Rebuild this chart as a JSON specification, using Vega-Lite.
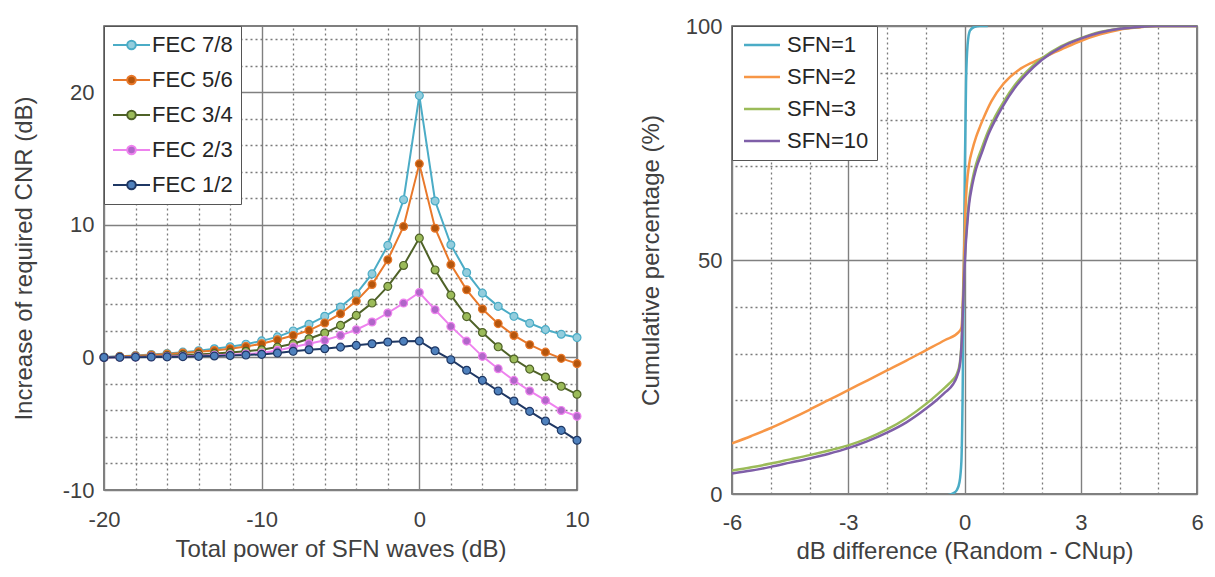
{
  "$schema": "https://vega.github.io/schema/vega-lite/v6.json",
  "background": "white",
  "padding": {"left": 11, "top": 14, "right": 0, "bottom": 0},
  "bounds": "flush",
  "spacing": 155,
  "resolve": {
    "scale": {"color": "independent", "stroke": "independent", "fill": "independent"},
    "legend": {"color": "independent", "stroke": "independent", "fill": "independent"}
  },
  "config": {
    "font": "Liberation Sans",
    "view": {"stroke": "#555555", "strokeWidth": 1.5},
    "axis": {
      "labelFont": "Liberation Sans",
      "titleFont": "Liberation Sans",
      "labelFontSize": 22,
      "titleFontSize": 24,
      "titleFontWeight": "normal",
      "labelColor": "#404040",
      "titleColor": "#404040",
      "ticks": false,
      "domain": false,
      "labelFlush": false,
      "labelExpr": "replace(datum.label, '\u2212', '-')"
    },
    "legend": {
      "labelFont": "Liberation Sans",
      "labelFontSize": 22,
      "labelColor": "#262626"
    }
  },
  "datasets": {
    "fec": [
      {"x": -20, "y": 0.03, "s": "FEC 7/8"}, {"x": -19, "y": 0.08, "s": "FEC 7/8"}, {"x": -18, "y": 0.15, "s": "FEC 7/8"}, {"x": -17, "y": 0.22, "s": "FEC 7/8"}, {"x": -16, "y": 0.3, "s": "FEC 7/8"}, {"x": -15, "y": 0.4, "s": "FEC 7/8"}, {"x": -14, "y": 0.5, "s": "FEC 7/8"}, {"x": -13, "y": 0.65, "s": "FEC 7/8"}, {"x": -12, "y": 0.8, "s": "FEC 7/8"}, {"x": -11, "y": 1.0, "s": "FEC 7/8"}, {"x": -10, "y": 1.25, "s": "FEC 7/8"}, {"x": -9, "y": 1.55, "s": "FEC 7/8"}, {"x": -8, "y": 2.0, "s": "FEC 7/8"}, {"x": -7, "y": 2.5, "s": "FEC 7/8"}, {"x": -6, "y": 3.1, "s": "FEC 7/8"}, {"x": -5, "y": 3.8, "s": "FEC 7/8"}, {"x": -4, "y": 4.8, "s": "FEC 7/8"}, {"x": -3, "y": 6.3, "s": "FEC 7/8"}, {"x": -2, "y": 8.45, "s": "FEC 7/8"}, {"x": -1, "y": 11.9, "s": "FEC 7/8"}, {"x": 0, "y": 19.75, "s": "FEC 7/8"}, {"x": 1, "y": 11.8, "s": "FEC 7/8"}, {"x": 2, "y": 8.5, "s": "FEC 7/8"}, {"x": 3, "y": 6.4, "s": "FEC 7/8"}, {"x": 4, "y": 4.85, "s": "FEC 7/8"}, {"x": 5, "y": 3.85, "s": "FEC 7/8"}, {"x": 6, "y": 3.1, "s": "FEC 7/8"}, {"x": 7, "y": 2.58, "s": "FEC 7/8"}, {"x": 8, "y": 2.1, "s": "FEC 7/8"}, {"x": 9, "y": 1.75, "s": "FEC 7/8"}, {"x": 10, "y": 1.5, "s": "FEC 7/8"},
      {"x": -20, "y": 0.02, "s": "FEC 5/6"}, {"x": -19, "y": 0.07, "s": "FEC 5/6"}, {"x": -18, "y": 0.12, "s": "FEC 5/6"}, {"x": -17, "y": 0.18, "s": "FEC 5/6"}, {"x": -16, "y": 0.25, "s": "FEC 5/6"}, {"x": -15, "y": 0.33, "s": "FEC 5/6"}, {"x": -14, "y": 0.42, "s": "FEC 5/6"}, {"x": -13, "y": 0.52, "s": "FEC 5/6"}, {"x": -12, "y": 0.66, "s": "FEC 5/6"}, {"x": -11, "y": 0.82, "s": "FEC 5/6"}, {"x": -10, "y": 1.03, "s": "FEC 5/6"}, {"x": -9, "y": 1.33, "s": "FEC 5/6"}, {"x": -8, "y": 1.66, "s": "FEC 5/6"}, {"x": -7, "y": 2.04, "s": "FEC 5/6"}, {"x": -6, "y": 2.6, "s": "FEC 5/6"}, {"x": -5, "y": 3.3, "s": "FEC 5/6"}, {"x": -4, "y": 4.25, "s": "FEC 5/6"}, {"x": -3, "y": 5.5, "s": "FEC 5/6"}, {"x": -2, "y": 7.37, "s": "FEC 5/6"}, {"x": -1, "y": 9.88, "s": "FEC 5/6"}, {"x": 0, "y": 14.6, "s": "FEC 5/6"}, {"x": 1, "y": 9.75, "s": "FEC 5/6"}, {"x": 2, "y": 7.0, "s": "FEC 5/6"}, {"x": 3, "y": 5.1, "s": "FEC 5/6"}, {"x": 4, "y": 3.65, "s": "FEC 5/6"}, {"x": 5, "y": 2.55, "s": "FEC 5/6"}, {"x": 6, "y": 1.66, "s": "FEC 5/6"}, {"x": 7, "y": 0.96, "s": "FEC 5/6"}, {"x": 8, "y": 0.4, "s": "FEC 5/6"}, {"x": 9, "y": -0.07, "s": "FEC 5/6"}, {"x": 10, "y": -0.47, "s": "FEC 5/6"},
      {"x": -20, "y": 0.01, "s": "FEC 3/4"}, {"x": -19, "y": 0.03, "s": "FEC 3/4"}, {"x": -18, "y": 0.06, "s": "FEC 3/4"}, {"x": -17, "y": 0.09, "s": "FEC 3/4"}, {"x": -16, "y": 0.13, "s": "FEC 3/4"}, {"x": -15, "y": 0.18, "s": "FEC 3/4"}, {"x": -14, "y": 0.23, "s": "FEC 3/4"}, {"x": -13, "y": 0.29, "s": "FEC 3/4"}, {"x": -12, "y": 0.37, "s": "FEC 3/4"}, {"x": -11, "y": 0.46, "s": "FEC 3/4"}, {"x": -10, "y": 0.58, "s": "FEC 3/4"}, {"x": -9, "y": 0.78, "s": "FEC 3/4"}, {"x": -8, "y": 1.03, "s": "FEC 3/4"}, {"x": -7, "y": 1.41, "s": "FEC 3/4"}, {"x": -6, "y": 1.84, "s": "FEC 3/4"}, {"x": -5, "y": 2.42, "s": "FEC 3/4"}, {"x": -4, "y": 3.17, "s": "FEC 3/4"}, {"x": -3, "y": 4.1, "s": "FEC 3/4"}, {"x": -2, "y": 5.36, "s": "FEC 3/4"}, {"x": -1, "y": 6.94, "s": "FEC 3/4"}, {"x": 0, "y": 9.0, "s": "FEC 3/4"}, {"x": 1, "y": 6.6, "s": "FEC 3/4"}, {"x": 2, "y": 4.7, "s": "FEC 3/4"}, {"x": 3, "y": 3.08, "s": "FEC 3/4"}, {"x": 4, "y": 1.88, "s": "FEC 3/4"}, {"x": 5, "y": 0.8, "s": "FEC 3/4"}, {"x": 6, "y": -0.12, "s": "FEC 3/4"}, {"x": 7, "y": -0.88, "s": "FEC 3/4"}, {"x": 8, "y": -1.48, "s": "FEC 3/4"}, {"x": 9, "y": -2.18, "s": "FEC 3/4"}, {"x": 10, "y": -2.78, "s": "FEC 3/4"},
      {"x": -20, "y": 0.0, "s": "FEC 2/3"}, {"x": -19, "y": 0.02, "s": "FEC 2/3"}, {"x": -18, "y": 0.03, "s": "FEC 2/3"}, {"x": -17, "y": 0.05, "s": "FEC 2/3"}, {"x": -16, "y": 0.07, "s": "FEC 2/3"}, {"x": -15, "y": 0.09, "s": "FEC 2/3"}, {"x": -14, "y": 0.12, "s": "FEC 2/3"}, {"x": -13, "y": 0.16, "s": "FEC 2/3"}, {"x": -12, "y": 0.2, "s": "FEC 2/3"}, {"x": -11, "y": 0.26, "s": "FEC 2/3"}, {"x": -10, "y": 0.33, "s": "FEC 2/3"}, {"x": -9, "y": 0.53, "s": "FEC 2/3"}, {"x": -8, "y": 0.78, "s": "FEC 2/3"}, {"x": -7, "y": 1.03, "s": "FEC 2/3"}, {"x": -6, "y": 1.29, "s": "FEC 2/3"}, {"x": -5, "y": 1.66, "s": "FEC 2/3"}, {"x": -4, "y": 2.09, "s": "FEC 2/3"}, {"x": -3, "y": 2.67, "s": "FEC 2/3"}, {"x": -2, "y": 3.35, "s": "FEC 2/3"}, {"x": -1, "y": 4.1, "s": "FEC 2/3"}, {"x": 0, "y": 4.9, "s": "FEC 2/3"}, {"x": 1, "y": 3.6, "s": "FEC 2/3"}, {"x": 2, "y": 2.34, "s": "FEC 2/3"}, {"x": 3, "y": 1.23, "s": "FEC 2/3"}, {"x": 4, "y": 0.08, "s": "FEC 2/3"}, {"x": 5, "y": -0.85, "s": "FEC 2/3"}, {"x": 6, "y": -1.73, "s": "FEC 2/3"}, {"x": 7, "y": -2.53, "s": "FEC 2/3"}, {"x": 8, "y": -3.24, "s": "FEC 2/3"}, {"x": 9, "y": -4.0, "s": "FEC 2/3"}, {"x": 10, "y": -4.44, "s": "FEC 2/3"},
      {"x": -20, "y": 0.0, "s": "FEC 1/2"}, {"x": -19, "y": 0.01, "s": "FEC 1/2"}, {"x": -18, "y": 0.02, "s": "FEC 1/2"}, {"x": -17, "y": 0.03, "s": "FEC 1/2"}, {"x": -16, "y": 0.04, "s": "FEC 1/2"}, {"x": -15, "y": 0.06, "s": "FEC 1/2"}, {"x": -14, "y": 0.08, "s": "FEC 1/2"}, {"x": -13, "y": 0.11, "s": "FEC 1/2"}, {"x": -12, "y": 0.14, "s": "FEC 1/2"}, {"x": -11, "y": 0.18, "s": "FEC 1/2"}, {"x": -10, "y": 0.23, "s": "FEC 1/2"}, {"x": -9, "y": 0.33, "s": "FEC 1/2"}, {"x": -8, "y": 0.46, "s": "FEC 1/2"}, {"x": -7, "y": 0.58, "s": "FEC 1/2"}, {"x": -6, "y": 0.66, "s": "FEC 1/2"}, {"x": -5, "y": 0.78, "s": "FEC 1/2"}, {"x": -4, "y": 0.91, "s": "FEC 1/2"}, {"x": -3, "y": 1.03, "s": "FEC 1/2"}, {"x": -2, "y": 1.16, "s": "FEC 1/2"}, {"x": -1, "y": 1.22, "s": "FEC 1/2"}, {"x": 0, "y": 1.24, "s": "FEC 1/2"}, {"x": 1, "y": 0.5, "s": "FEC 1/2"}, {"x": 2, "y": -0.17, "s": "FEC 1/2"}, {"x": 3, "y": -0.97, "s": "FEC 1/2"}, {"x": 4, "y": -1.73, "s": "FEC 1/2"}, {"x": 5, "y": -2.53, "s": "FEC 1/2"}, {"x": 6, "y": -3.29, "s": "FEC 1/2"}, {"x": 7, "y": -4.07, "s": "FEC 1/2"}, {"x": 8, "y": -4.8, "s": "FEC 1/2"}, {"x": 9, "y": -5.5, "s": "FEC 1/2"}, {"x": 10, "y": -6.25, "s": "FEC 1/2"}
    ],
    "sfn": [
      {"x": -0.93, "y": -0.3, "s": "SFN=1"}, {"x": -0.6, "y": -0.3, "s": "SFN=1"}, {"x": -0.4, "y": -0.2, "s": "SFN=1"}, {"x": -0.28, "y": 0.2, "s": "SFN=1"}, {"x": -0.2, "y": 0.8, "s": "SFN=1"}, {"x": -0.13, "y": 2.5, "s": "SFN=1"}, {"x": -0.08, "y": 7, "s": "SFN=1"}, {"x": -0.05, "y": 20, "s": "SFN=1"}, {"x": -0.02, "y": 45, "s": "SFN=1"}, {"x": 0.01, "y": 70, "s": "SFN=1"}, {"x": 0.04, "y": 88, "s": "SFN=1"}, {"x": 0.08, "y": 96, "s": "SFN=1"}, {"x": 0.14, "y": 99, "s": "SFN=1"}, {"x": 0.25, "y": 99.8, "s": "SFN=1"}, {"x": 0.4, "y": 100, "s": "SFN=1"}, {"x": 0.6, "y": 100, "s": "SFN=1"},
      {"x": -6, "y": 10.8, "s": "SFN=2"}, {"x": -5.5, "y": 12.4, "s": "SFN=2"}, {"x": -5, "y": 14.1, "s": "SFN=2"}, {"x": -4.5, "y": 16.0, "s": "SFN=2"}, {"x": -4, "y": 18.0, "s": "SFN=2"}, {"x": -3.5, "y": 20.1, "s": "SFN=2"}, {"x": -3, "y": 22.2, "s": "SFN=2"}, {"x": -2.5, "y": 24.3, "s": "SFN=2"}, {"x": -2, "y": 26.4, "s": "SFN=2"}, {"x": -1.5, "y": 28.5, "s": "SFN=2"}, {"x": -1, "y": 30.7, "s": "SFN=2"}, {"x": -0.5, "y": 32.9, "s": "SFN=2"}, {"x": -0.15, "y": 34.6, "s": "SFN=2"}, {"x": -0.08, "y": 35.5, "s": "SFN=2"}, {"x": -0.04, "y": 42, "s": "SFN=2"}, {"x": -0.01, "y": 52, "s": "SFN=2"}, {"x": 0.02, "y": 60, "s": "SFN=2"}, {"x": 0.06, "y": 66, "s": "SFN=2"}, {"x": 0.12, "y": 70.5, "s": "SFN=2"}, {"x": 0.2, "y": 73.5, "s": "SFN=2"}, {"x": 0.3, "y": 76.3, "s": "SFN=2"}, {"x": 0.4, "y": 78.5, "s": "SFN=2"}, {"x": 0.5, "y": 80.5, "s": "SFN=2"}, {"x": 0.7, "y": 84, "s": "SFN=2"}, {"x": 1, "y": 87.6, "s": "SFN=2"}, {"x": 1.4, "y": 90.6, "s": "SFN=2"}, {"x": 1.8, "y": 92.4, "s": "SFN=2"}, {"x": 2.2, "y": 93.9, "s": "SFN=2"}, {"x": 2.6, "y": 95.4, "s": "SFN=2"}, {"x": 3, "y": 96.8, "s": "SFN=2"}, {"x": 3.5, "y": 98.2, "s": "SFN=2"}, {"x": 4, "y": 99.2, "s": "SFN=2"}, {"x": 4.5, "y": 99.7, "s": "SFN=2"}, {"x": 5, "y": 100, "s": "SFN=2"}, {"x": 6, "y": 100, "s": "SFN=2"},
      {"x": -6, "y": 5.0, "s": "SFN=3"}, {"x": -5.5, "y": 5.7, "s": "SFN=3"}, {"x": -5, "y": 6.5, "s": "SFN=3"}, {"x": -4.5, "y": 7.4, "s": "SFN=3"}, {"x": -4, "y": 8.3, "s": "SFN=3"}, {"x": -3.5, "y": 9.3, "s": "SFN=3"}, {"x": -3, "y": 10.4, "s": "SFN=3"}, {"x": -2.5, "y": 11.9, "s": "SFN=3"}, {"x": -2, "y": 13.8, "s": "SFN=3"}, {"x": -1.5, "y": 16.2, "s": "SFN=3"}, {"x": -1, "y": 19.2, "s": "SFN=3"}, {"x": -0.7, "y": 21.3, "s": "SFN=3"}, {"x": -0.5, "y": 22.8, "s": "SFN=3"}, {"x": -0.3, "y": 24.4, "s": "SFN=3"}, {"x": -0.2, "y": 25.6, "s": "SFN=3"}, {"x": -0.12, "y": 28, "s": "SFN=3"}, {"x": -0.07, "y": 33.5, "s": "SFN=3"}, {"x": -0.03, "y": 43, "s": "SFN=3"}, {"x": 0, "y": 49, "s": "SFN=3"}, {"x": 0.03, "y": 54, "s": "SFN=3"}, {"x": 0.07, "y": 58.5, "s": "SFN=3"}, {"x": 0.12, "y": 63, "s": "SFN=3"}, {"x": 0.2, "y": 67, "s": "SFN=3"}, {"x": 0.3, "y": 70.5, "s": "SFN=3"}, {"x": 0.45, "y": 74, "s": "SFN=3"}, {"x": 0.6, "y": 77.3, "s": "SFN=3"}, {"x": 0.8, "y": 80.8, "s": "SFN=3"}, {"x": 1, "y": 83.7, "s": "SFN=3"}, {"x": 1.3, "y": 87.4, "s": "SFN=3"}, {"x": 1.6, "y": 90.2, "s": "SFN=3"}, {"x": 2, "y": 93.1, "s": "SFN=3"}, {"x": 2.5, "y": 95.7, "s": "SFN=3"}, {"x": 3, "y": 97.4, "s": "SFN=3"}, {"x": 3.5, "y": 98.7, "s": "SFN=3"}, {"x": 4, "y": 99.4, "s": "SFN=3"}, {"x": 4.5, "y": 99.8, "s": "SFN=3"}, {"x": 5, "y": 100, "s": "SFN=3"}, {"x": 6, "y": 100, "s": "SFN=3"},
      {"x": -6, "y": 4.4, "s": "SFN=10"}, {"x": -5.5, "y": 5.0, "s": "SFN=10"}, {"x": -5, "y": 5.8, "s": "SFN=10"}, {"x": -4.5, "y": 6.7, "s": "SFN=10"}, {"x": -4, "y": 7.6, "s": "SFN=10"}, {"x": -3.5, "y": 8.6, "s": "SFN=10"}, {"x": -3, "y": 9.8, "s": "SFN=10"}, {"x": -2.5, "y": 11.3, "s": "SFN=10"}, {"x": -2, "y": 13.1, "s": "SFN=10"}, {"x": -1.5, "y": 15.3, "s": "SFN=10"}, {"x": -1, "y": 18.2, "s": "SFN=10"}, {"x": -0.7, "y": 20.2, "s": "SFN=10"}, {"x": -0.5, "y": 21.7, "s": "SFN=10"}, {"x": -0.3, "y": 23.4, "s": "SFN=10"}, {"x": -0.2, "y": 25.0, "s": "SFN=10"}, {"x": -0.12, "y": 27.5, "s": "SFN=10"}, {"x": -0.07, "y": 33, "s": "SFN=10"}, {"x": -0.03, "y": 42, "s": "SFN=10"}, {"x": 0, "y": 48, "s": "SFN=10"}, {"x": 0.03, "y": 53, "s": "SFN=10"}, {"x": 0.07, "y": 57.5, "s": "SFN=10"}, {"x": 0.12, "y": 62, "s": "SFN=10"}, {"x": 0.2, "y": 66, "s": "SFN=10"}, {"x": 0.3, "y": 69.5, "s": "SFN=10"}, {"x": 0.45, "y": 73, "s": "SFN=10"}, {"x": 0.6, "y": 76.5, "s": "SFN=10"}, {"x": 0.8, "y": 80, "s": "SFN=10"}, {"x": 1, "y": 83, "s": "SFN=10"}, {"x": 1.3, "y": 86.8, "s": "SFN=10"}, {"x": 1.6, "y": 89.7, "s": "SFN=10"}, {"x": 2, "y": 92.8, "s": "SFN=10"}, {"x": 2.5, "y": 95.5, "s": "SFN=10"}, {"x": 3, "y": 97.3, "s": "SFN=10"}, {"x": 3.5, "y": 98.6, "s": "SFN=10"}, {"x": 4, "y": 99.4, "s": "SFN=10"}, {"x": 4.5, "y": 99.8, "s": "SFN=10"}, {"x": 5, "y": 100, "s": "SFN=10"}, {"x": 6, "y": 100, "s": "SFN=10"}
    ]
  },
  "hconcat": [
    {
      "width": 473,
      "height": 464,
      "data": {"name": "fec"},
      "layer": [
        {
          "mark": {"type": "line", "strokeWidth": 2},
          "encoding": {
            "x": {"field": "x", "type": "quantitative", "scale": {"domain": [-20, 10], "nice": false, "zero": false},
              "axis": {"orient": "top", "values": [-18, -16, -14, -12, -8, -6, -4, -2, 2, 4, 6, 8], "labels": false, "title": null, "grid": true, "gridDash": [2, 3], "gridColor": "#7a7a7a", "gridWidth": 1.3}},
            "y": {"field": "y", "type": "quantitative", "scale": {"domain": [-10, 25], "nice": false, "zero": false},
              "axis": {"orient": "right", "values": [-8, -6, -4, -2, 2, 4, 6, 8, 12, 14, 16, 18, 22, 24], "labels": false, "title": null, "grid": true, "gridDash": [2, 3], "gridColor": "#7a7a7a", "gridWidth": 1.3}},
            "stroke": {"field": "s", "type": "nominal",
              "scale": {"domain": ["FEC 7/8", "FEC 5/6", "FEC 3/4", "FEC 2/3", "FEC 1/2"], "range": ["#4bacc6", "#e8782a", "#4f6228", "#ee82ee", "#1f3864"]},
              "legend": {"title": null, "orient": "top-left", "offset": 0, "fillColor": "white", "strokeColor": "#555555", "padding": 8, "rowPadding": 13,
                "symbolType": "M-1,0L0.42,0M1.28,0L2.7,0M1.28,0A0.43,0.43,0,1,1,0.42,0A0.43,0.43,0,1,1,1.28,0Z", "symbolSize": 400, "symbolStrokeWidth": 2, "labelOffset": 18}},
            "order": {"field": "x", "type": "quantitative"}
          }
        },
        {
          "mark": {"type": "point", "filled": true, "size": 62, "strokeWidth": 1.2, "opacity": 1},
          "encoding": {
            "x": {"field": "x", "type": "quantitative",
              "axis": {"values": [-20, -10, 0, 10], "title": "Total power of SFN waves (dB)", "grid": true, "gridColor": "#808080", "gridWidth": 1.4, "labelPadding": 19, "titlePadding": 7}},
            "y": {"field": "y", "type": "quantitative",
              "axis": {"values": [-10, 0, 10, 20], "title": "Increase of required CNR (dB)", "grid": true, "gridColor": "#808080", "gridWidth": 1.4, "labelPadding": 10, "titlePadding": 26}},
            "fill": {"field": "s", "type": "nominal",
              "scale": {"domain": ["FEC 7/8", "FEC 5/6", "FEC 3/4", "FEC 2/3", "FEC 1/2"], "range": ["#93cddd", "#b4550c", "#9bbb59", "#b066c8", "#4f81bd"]},
              "legend": {"title": null, "orient": "top-left", "offset": 0, "fillColor": "white", "strokeColor": "#555555", "padding": 8, "rowPadding": 13,
                "symbolType": "M-1,0L0.42,0M1.28,0L2.7,0M1.28,0A0.43,0.43,0,1,1,0.42,0A0.43,0.43,0,1,1,1.28,0Z", "symbolSize": 400, "symbolStrokeWidth": 2, "labelOffset": 18}},
            "stroke": {"field": "s", "type": "nominal",
              "legend": {"title": null, "orient": "top-left", "offset": 0, "fillColor": "white", "strokeColor": "#555555", "padding": 8, "rowPadding": 13,
                "symbolType": "M-1,0L0.42,0M1.28,0L2.7,0M1.28,0A0.43,0.43,0,1,1,0.42,0A0.43,0.43,0,1,1,1.28,0Z", "symbolSize": 400, "symbolStrokeWidth": 2, "labelOffset": 18}}
          }
        }
      ],
      "resolve": {"axis": {"x": "independent", "y": "independent"}}
    },
    {
      "width": 465,
      "height": 468,
      "data": {"name": "sfn"},
      "layer": [
        {
          "mark": {"type": "point", "opacity": 0},
          "encoding": {
            "x": {"field": "x", "type": "quantitative", "scale": {"domain": [-6, 6], "nice": false, "zero": false},
              "axis": {"orient": "top", "values": [-5, -4, -2, -1, 1, 2, 4, 5], "labels": false, "title": null, "grid": true, "gridDash": [2, 3], "gridColor": "#7a7a7a", "gridWidth": 1.3}},
            "y": {"field": "y", "type": "quantitative", "scale": {"domain": [0, 100], "nice": false},
              "axis": {"orient": "right", "values": [10, 20, 30, 40, 60, 70, 80, 90], "labels": false, "title": null, "grid": true, "gridDash": [2, 3], "gridColor": "#7a7a7a", "gridWidth": 1.3}}
          }
        },
        {
          "mark": {"type": "line", "strokeWidth": 2.5, "interpolate": "monotone", "clip": true},
          "encoding": {
            "x": {"field": "x", "type": "quantitative",
              "axis": {"values": [-6, -3, 0, 3, 6], "title": "dB difference (Random - CNup)", "grid": true, "gridColor": "#808080", "gridWidth": 1.4, "labelPadding": 18, "titlePadding": 6}},
            "y": {"field": "y", "type": "quantitative",
              "axis": {"values": [0, 50, 100], "title": "Cumulative percentage (%)", "grid": true, "gridColor": "#808080", "gridWidth": 1.4, "labelPadding": 10, "titlePadding": 22}},
            "color": {"field": "s", "type": "nominal",
              "scale": {"domain": ["SFN=1", "SFN=2", "SFN=3", "SFN=10"], "range": ["#4bacc6", "#f79646", "#9bbb59", "#7f5fa8"]},
              "legend": {"title": null, "orient": "top-left", "offset": 0, "fillColor": "white", "strokeColor": "#555555", "padding": 8, "rowPadding": 10,
                "symbolType": "M-1,0L4.14,0", "symbolSize": 196, "symbolStrokeWidth": 2.5, "labelOffset": 25}},
            "order": {"field": "x", "type": "quantitative"}
          }
        }
      ],
      "resolve": {"axis": {"x": "independent", "y": "independent"}}
    }
  ]
}
